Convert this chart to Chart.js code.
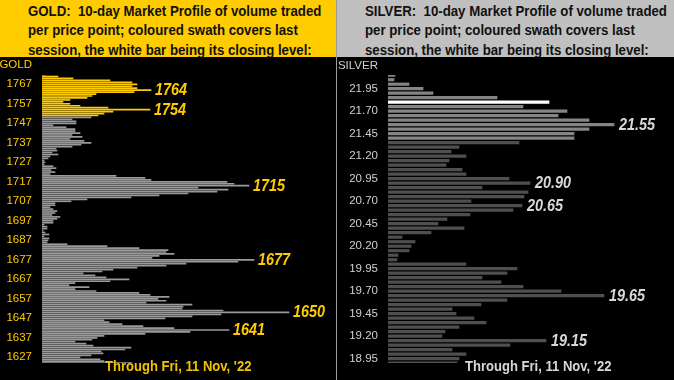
<!DOCTYPE html>
<html><head><meta charset="utf-8">
<script src="https://cdn.jsdelivr.net/npm/chart.js@4.4.0/dist/chart.umd.min.js"></script>
<style>
html,body{margin:0;padding:0;background:#000;width:674px;height:380px;overflow:hidden;font-family:"Liberation Sans",Arial,sans-serif;}
.panel{position:absolute;top:0;height:380px;overflow:hidden;}
.title{position:absolute;left:0;top:0;height:57px;width:100%;overflow:hidden;}
.title div{position:absolute;left:28px;white-space:pre;font-weight:bold;font-size:14px;line-height:16px;transform-origin:0 0;transform:scaleX(0.945);color:#111;}
.through{position:absolute;top:358px;white-space:pre;font-weight:bold;font-size:15px;line-height:15px;transform-origin:0 0;transform:scaleX(0.87);}
canvas{position:absolute;left:0;top:58px;}
#divider{position:absolute;left:336px;top:0;width:1px;height:380px;background:#9a9a9a;}
</style></head>
<body>
<div class="panel" id="goldPanel" style="left:0;width:336px;">
  <div class="title" style="background:#FFCC00;">
    <div style="top:3px;">GOLD:  10-day Market Profile of volume traded</div>
    <div style="top:22px;">per price point; coloured swath covers last</div>
    <div style="top:41.5px;">session, the white bar being its closing level:</div>
  </div>
  <canvas id="goldChart" width="336" height="322" style="width:336px;height:322px;"></canvas>
  <div class="through" style="left:105px;color:#F2C200;">Through Fri, 11 Nov, '22</div>
</div>
<div id="divider"></div>
<div class="panel" id="silverPanel" style="left:337px;width:337px;">
  <div class="title" style="background:#C0C0C0;">
    <div style="top:3px;">SILVER:  10-day Market Profile of volume traded</div>
    <div style="top:22px;">per price point; coloured swath covers last</div>
    <div style="top:41.5px;">session, the white bar being its closing level:</div>
  </div>
  <canvas id="silverChart" width="337" height="322" style="width:337px;height:322px;"></canvas>
  <div class="through" style="left:128px;color:#D8D8D8;">Through Fri, 11 Nov, '22</div>
</div>
<script>
// ---------- GOLD ----------
const goldTop = 1775;           // first price point (top), $1 steps downward
const goldVolume = [
  2,4,5,3,16,31,68,90,95,90,95,109,          // 1775..1764
  92,54,50,45,28,21,28,38,66,108,            // 1763..1754
  71,62,56,49,30,34,34,11,24,33,             // 1753..1744
  33,38,30,40,28,42,49,39,30,14,             // 1743..1734
  15,10,16,8,6,2,3,2,11,14,                  // 1733..1724
  9,13,8,74,103,109,185,192,207,156,         // 1723..1714
  186,175,146,117,89,45,29,13,13,8,          // 1713..1704
  11,15,13,10,18,15,11,11,2,5,               // 1703..1694
  5,1,3,7,2,7,6,5,25,65,                     // 1693..1684
  97,126,124,132,117,110,212,196,144,124,    // 1683..1674
  95,71,60,41,53,64,87,68,33,27,             // 1673..1664
  47,33,54,97,108,127,116,124,104,150,       // 1663..1654
  141,140,181,247,179,150,123,62,67,80,      // 1653..1644
  101,132,187,148,103,62,55,50,33,44,        // 1643..1634
  51,89,83,59,61,49,38,58,62,90,             // 1633..1624
  58,58,49,16                                // 1623..1620
];
const goldPrices = goldVolume.map((v, i) => goldTop - i);
const goldTicks = [1777,1767,1757,1747,1737,1727,1717,1707,1697,1687,1677,1667,1657,1647,1637,1627];
const goldTickName = 'GOLD';
const goldMarks = [1764,1754,1715,1677,1650,1641];
const goldClose = [1775,1774];
const goldSwathHigh = 1773, goldSwathLow = 1751;

// ---------- SILVER ----------
const silverTop = 22.15;        // first price point (top), $0.05 steps downward
const silverVolume = [
  3,7,6,21,35,45,109,161,135,179,            // 22.15..21.70
  170,201,226,201,186,186,131,71,63,78,      // 21.65..21.20
  61,58,74,78,121,142,94,140,136,83,         // 21.15..20.70
  134,125,82,59,50,76,43,14,27,23,           // 20.65..20.20
  21,10,9,78,129,119,94,113,135,173,         // 20.15..19.70
  216,119,93,64,68,86,98,71,57,54,           // 19.65..19.20
  158,122,64,78,71,69,33,4                   // 19.15..18.80
];
const silverPrices = silverVolume.map((v, i) => Math.round((silverTop - i * 0.05) * 100) / 100);
const silverTicks = [22.20,21.95,21.70,21.45,21.20,20.95,20.70,20.45,20.20,19.95,19.70,19.45,19.20,18.95];
const silverTickName = 'SILVER';
const silverMarks = [21.55,20.90,20.65,19.65,19.15];
const silverClose = [21.80];
const silverSwathHigh = 22.15, silverSwathLow = 21.40;

Chart.defaults.font.family = '"Liberation Sans", Arial, sans-serif';

const markLabels = {
  id: 'marks',
  afterDatasetsDraw(chart, args, opts) {
    const {ctx, scales: {x, y}} = chart;
    ctx.save();
    ctx.font = 'italic bold 16px "Liberation Sans", Arial, sans-serif';
    ctx.fillStyle = opts.color;
    ctx.textBaseline = 'middle';
    ctx.textAlign = 'left';
    opts.items.forEach(m => {
      const px = x.getPixelForValue(m.v) + opts.gap;
      const py = y.getPixelForValue(m.p) + 0.5;
      ctx.save();
      ctx.translate(px, py);
      ctx.scale(0.9, 1);
      ctx.fillText(m.text, 0, 0);
      ctx.restore();
    });
    ctx.restore();
  }
};

function makeChart(id, cfg) {
  const eq = (a, b) => Math.abs(a - b) < 1e-6;
  const colorOf = p => cfg.close.some(c => eq(c, p)) ? '#FFFFFF'
      : (p <= cfg.swathHigh + 1e-6 && p >= cfg.swathLow - 1e-6) ? cfg.swathColor : cfg.baseColor;
  const data = cfg.prices.map((p, i) => ({x: cfg.volume[i], y: p}));
  const items = cfg.marks.map(p => {
    const i = cfg.prices.findIndex(q => eq(q, p));
    return {p, v: cfg.volume[i], text: cfg.fmt(p)};
  });
  const chart = new Chart(document.getElementById(id), {
    type: 'bar',
    data: {
      datasets: [{
        data,
        backgroundColor: c => colorOf(c.raw.y),
        borderWidth: 0,
        barThickness: cfg.thickness,
        grouped: false
      }]
    },
    options: {
      indexAxis: 'y',
      responsive: false,
      animation: false,
      devicePixelRatio: 1,
      layout: {padding: 0},
      plugins: {
        legend: {display: false},
        tooltip: {enabled: false},
        marks: {items, color: cfg.labelColor, gap: cfg.gap}
      },
      scales: {
        x: {type: 'linear', display: false, min: 0, max: cfg.xMax},
        y: {
          type: 'linear', min: cfg.refValue - 80 / cfg.pxPerUnit, max: cfg.refValue + 30 / cfg.pxPerUnit,
          offset: false,
          grid: {display: false, drawTicks: false},
          border: {display: false},
          afterBuildTicks: s => { s.ticks = cfg.ticks.map(v => ({value: v})); },
          afterFit: s => { s.width = cfg.axisWidth; },
          ticks: {
            autoSkip: false, padding: 10, color: cfg.tickColor,
            font: {size: 11.5},
            callback: v => eq(v, cfg.ticks[0]) ? cfg.tickName : cfg.fmt(v)
          }
        }
      }
    },
    plugins: [markLabels]
  });
  // place the value scale so that refValue sits at refPixel with pxPerUnit spacing
  for (let k = 0; k < 3; k++) {
    const {top, bottom} = chart.chartArea;
    chart.options.scales.y.max = cfg.refValue + (cfg.refPixel - top) / cfg.pxPerUnit;
    chart.options.scales.y.min = cfg.refValue - (bottom - cfg.refPixel) / cfg.pxPerUnit;
    chart.update('none');
  }
  return chart;
}

makeChart('goldChart', {
  prices: goldPrices, volume: goldVolume, ticks: goldTicks, tickName: goldTickName,
  marks: goldMarks, close: goldClose, swathHigh: goldSwathHigh, swathLow: goldSwathLow,
  swathColor: '#FFCC00', baseColor: '#9A9A9A', labelColor: '#FFCC00', tickColor: '#FFCC00',
  fmt: v => String(Math.round(v)), thickness: 1, gap: 4,
  xMax: 294, refValue: 1767, refPixel: 26.3, pxPerUnit: 1.95, axisWidth: 42
});

makeChart('silverChart', {
  prices: silverPrices, volume: silverVolume, ticks: silverTicks, tickName: silverTickName,
  marks: silverMarks, close: silverClose, swathHigh: silverSwathHigh, swathLow: silverSwathLow,
  swathColor: '#858585', baseColor: '#4F4F4F', labelColor: '#D8D8D8', tickColor: '#D0D0D0',
  fmt: v => v.toFixed(2), thickness: 2.5, gap: 5,
  xMax: 286, refValue: 21.95, refPixel: 30.7, pxPerUnit: 90, axisWidth: 51
});
</script>
</body></html>
